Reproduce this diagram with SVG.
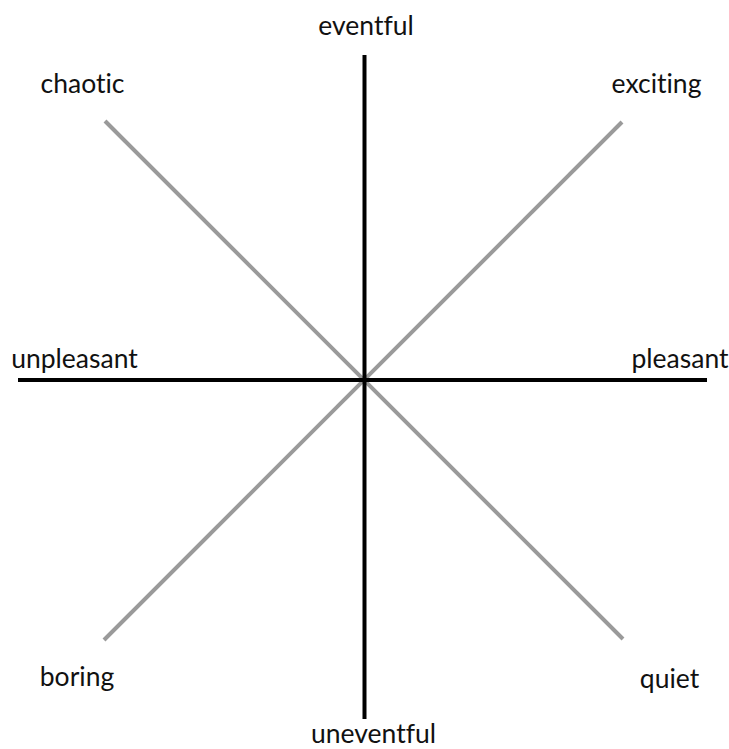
<svg xmlns="http://www.w3.org/2000/svg" width="729" height="749" viewBox="0 0 729 749">
<style>
.lbl{font-family:"Lato","Open Sans","Liberation Sans",sans-serif;font-size:26.5px;fill:#111;text-anchor:middle;font-variant-ligatures:none}
.axis{stroke:#000;stroke-width:4;fill:none}
.diag{stroke:#9a9a9a;stroke-width:4;fill:none}
</style>
<rect width="729" height="749" fill="#fff"/>
<g id="connectors">
<line class="diag" x1="105" y1="121" x2="623" y2="639"/>
<line class="diag" x1="622" y1="122" x2="104" y2="640"/>
<line class="axis" x1="18" y1="380" x2="707" y2="380"/>
<line class="axis" x1="364.5" y1="55" x2="364.5" y2="719"/>
</g>
<g id="eventful"><text class="lbl" x="366" y="35">eventful</text></g>
<g id="chaotic"><text class="lbl" x="82.5" y="93">chaotic</text></g>
<g id="exciting"><text class="lbl" x="656.5" y="93">exciting</text></g>
<g id="unpleasant"><text class="lbl" x="74.5" y="368">unpleasant</text></g>
<g id="pleasant"><text class="lbl" x="680" y="368">pleasant</text></g>
<g id="boring"><text class="lbl" x="77" y="686">boring</text></g>
<g id="quiet"><text class="lbl" x="669.5" y="688">quiet</text></g>
<g id="uneventful"><text class="lbl" x="373.5" y="743">uneventful</text></g>
</svg>
